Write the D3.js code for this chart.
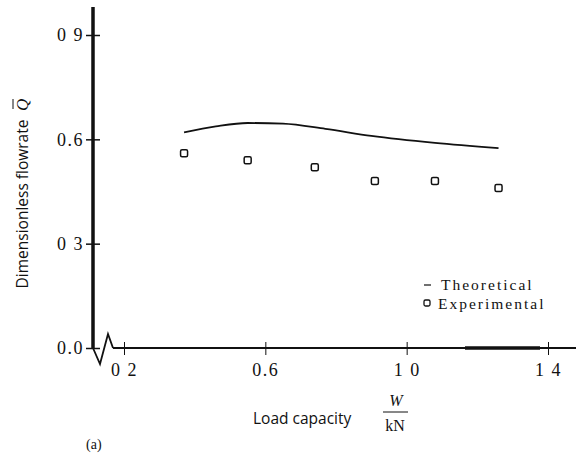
<!DOCTYPE html>
<html>
<head>
<meta charset="utf-8">
<script src="https://d3js.org/d3.v7.min.js"></script>
<style>
  body { margin: 0; background: #fff; }
</style>
</head>
<body>
<script>
// data
var loadTheory = [0.37, 0.46, 0.55, 0.65, 0.77, 0.90, 1.08, 1.26];
var flowTheory = [0.620, 0.637, 0.647, 0.645, 0.630, 0.610, 0.590, 0.575];
var loadExp = [0.37, 0.55, 0.74, 0.91, 1.08, 1.26];
var flowExp = [0.56, 0.54, 0.52, 0.48, 0.48, 0.46];
var xTicks = [0.2, 0.6, 1.0, 1.4];
var xTickLabels = ["0 2", "0.6", "1 0", "1 4"];
var yTicks = [0.0, 0.3, 0.6, 0.9];
var yTickLabels = ["0.0", "0 3", "0.6", "0 9"];

var serif = "'Liberation Serif', 'DejaVu Serif', serif";
var sans = "'Open Sans', 'DejaVu Sans', sans-serif";

var svg = d3.select("body").append("svg")
    .attr("width", 577)
    .attr("height", 467);

var x = d3.scaleLinear().domain([0.2, 1.4]).range([124, 548]);
var y = d3.scaleLinear().domain([0, 0.9]).range([348, 35]);

// x axis (starts after the break)
var xAxis = svg.append("g")
    .attr("transform", "translate(0,348)")
    .call(d3.axisBottom(x).tickValues(xTicks)
      .tickFormat(function(d, i) { return xTickLabels[i]; })
      .tickSize(7).tickSizeOuter(0));
xAxis.select(".domain").remove();
xAxis.append("line").attr("x1", 113).attr("x2", 576)
    .attr("stroke", "#111").attr("stroke-width", 2);
xAxis.append("line").attr("x1", 465).attr("x2", 540)
    .attr("stroke", "#111").attr("stroke-width", 3.5);
xAxis.selectAll(".tick line").attr("y1", -6).attr("y2", 7).attr("stroke", "#111");
xAxis.selectAll(".tick text")
    .attr("y", 15)
    .style("font-family", serif).style("font-size", "18px").style("letter-spacing", "1.5px")
    .attr("fill", "#111");

// y axis
var yAxis = svg.append("g")
    .attr("transform", "translate(93,0)")
    .call(d3.axisLeft(y).tickValues(yTicks)
      .tickFormat(function(d, i) { return yTickLabels[i]; })
      .tickSize(7).tickSizeOuter(0));
yAxis.select(".domain").remove();
yAxis.append("line").attr("y1", 7).attr("y2", 348)
    .attr("stroke", "#111").attr("stroke-width", 3.5);
yAxis.selectAll(".tick line").attr("x1", -7).attr("x2", 7)
    .attr("stroke", "#111").attr("stroke-width", 1.5);
yAxis.selectAll(".tick text")
    .attr("x", -9)
    .style("font-family", serif).style("font-size", "18px").style("letter-spacing", "1.5px")
    .attr("fill", "#111");

// axis break squiggle
svg.append("path")
    .attr("d", "M93,348 L100,364 L108,334 L113,348")
    .attr("fill", "none").attr("stroke", "#111").attr("stroke-width", 1.8);

// theoretical curve
var line = d3.line()
    .x(function(d) { return x(d[0]); })
    .y(function(d) { return y(d[1]); })
    .curve(d3.curveMonotoneX);
svg.append("path")
    .datum(d3.zip(loadTheory, flowTheory))
    .attr("d", line)
    .attr("fill", "none").attr("stroke", "#111").attr("stroke-width", 1.8);

// experimental points
svg.selectAll(".pt")
    .data(d3.zip(loadExp, flowExp))
    .enter().append("rect")
    .attr("class", "pt")
    .attr("x", function(d) { return x(d[0]) - 3.5; })
    .attr("y", function(d) { return y(d[1]) - 3.5; })
    .attr("width", 7).attr("height", 7).attr("rx", 1.5)
    .attr("fill", "#fff").attr("stroke", "#111").attr("stroke-width", 1.5);

// legend
var legend = svg.append("g").style("font-family", serif).style("font-size", "15.5px")
    .style("letter-spacing", "2px").attr("fill", "#111");
legend.append("line").attr("x1", 424).attr("x2", 431).attr("y1", 285).attr("y2", 285)
    .attr("stroke", "#111").attr("stroke-width", 1.2);
legend.append("text").attr("x", 441).attr("y", 290).text("Theoretical");
legend.append("rect").attr("x", 424).attr("y", 300).attr("width", 6).attr("height", 6).attr("rx", 1.5)
    .attr("fill", "#fff").attr("stroke", "#111").attr("stroke-width", 1.3);
legend.append("text").attr("x", 438).attr("y", 309).text("Experimental");

// y title
var yt = svg.append("g").attr("transform", "translate(28,204) rotate(-90)");
yt.append("text")
    .attr("text-anchor", "middle")
    .style("font-family", sans).style("font-size", "15.5px").attr("fill", "#111")
    .text("Dimensionless flowrate");
yt.append("text").attr("x", 93)
    .style("font-family", serif).style("font-style", "italic").style("font-size", "17px").attr("fill", "#111")
    .text("Q");
yt.append("line").attr("x1", 95).attr("x2", 105).attr("y1", -15).attr("y2", -15)
    .attr("stroke", "#111").attr("stroke-width", 1);

// x title with fraction
svg.append("text").attr("x", 253).attr("y", 424)
    .style("font-family", sans).style("font-size", "15.5px").attr("fill", "#111")
    .text("Load capacity");
svg.append("text").attr("x", 396).attr("y", 406).attr("text-anchor", "middle")
    .style("font-family", serif).style("font-style", "italic").style("font-size", "16px").attr("fill", "#111")
    .text("W");
svg.append("line").attr("x1", 383).attr("x2", 408).attr("y1", 412).attr("y2", 412)
    .attr("stroke", "#111").attr("stroke-width", 1);
svg.append("text").attr("x", 395).attr("y", 431).attr("text-anchor", "middle")
    .style("font-family", serif).style("font-size", "16px").attr("fill", "#111")
    .text("kN");

svg.append("text").attr("x", 86).attr("y", 449)
    .style("font-family", serif).style("font-size", "14px").attr("fill", "#111")
    .text("(a)");
</script>
</body>
</html>
